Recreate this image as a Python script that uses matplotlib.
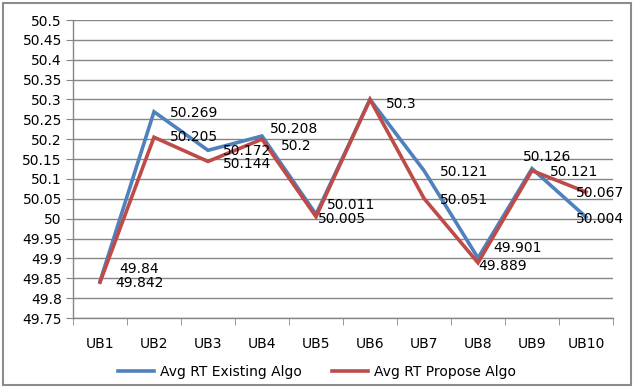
import matplotlib
matplotlib.use("Agg")
import matplotlib.pyplot as plt
from matplotlib.patches import Rectangle
import numpy as np

categories = ["UB1", "UB2", "UB3", "UB4", "UB5", "UB6", "UB7", "UB8", "UB9", "UB10"]
existing = [49.842, 50.269, 50.172, 50.208, 50.011, 50.3, 50.121, 49.901, 50.126, 50.004]
propose = [49.84, 50.205, 50.144, 50.2, 50.005, 50.3, 50.051, 49.889, 50.121, 50.067]
existing_labels = ["49.842", "50.269", "50.172", "50.208", "50.011", "50.3", "50.121", "49.901", "50.126", "50.004"]
propose_labels = ["49.84", "50.205", "50.144", "50.2", "50.005", "", "50.051", "49.889", "50.121", "50.067"]
yticks = [49.75, 49.8, 49.85, 49.9, 49.95, 50.0, 50.05, 50.1, 50.15, 50.2, 50.25, 50.3, 50.35, 50.4, 50.45, 50.5]
ytick_labels = ["49.75", "49.8", "49.85", "49.9", "49.95", "50", "50.05", "50.1", "50.15", "50.2",
                "50.25", "50.3", "50.35", "50.4", "50.45", "50.5"]

# label offsets in pixels (dx right, dy down)
blue_off = [(15, 2), (16, 1), (15, 1), (8, -7), (11, -9), (16, 5), (16, 1), (15, -10), (-9, -12), (-10, 2)]
red_off = [(19, -13), (16, 0), (15, 2.5), (19, 7), (2, 2), (16, 5), (16, 1.5), (0, 3), (18, 1), (-10, 1)]

W, H = 634, 388
plt.rcParams['font.family'] = ['DejaVu Sans']
fig = plt.figure(figsize=(W / 100, H / 100), dpi=100)

left, right, top, bottom = 73, 613, 20, 318
ax = fig.add_axes([left / W, 1 - bottom / H, (right - left) / W, (bottom - top) / H])

blue = "#4F81BD"
red = "#BE4B48"
fs = 10
x = np.arange(len(categories))
ax.plot(x, existing, color=blue, lw=2.6, solid_joinstyle='miter', zorder=3, label="Avg RT Existing Algo")
ax.plot(x, propose, color=red, lw=2.6, solid_joinstyle='miter', zorder=4, label="Avg RT Propose Algo")

ax.set_xlim(-0.5, len(categories) - 0.5)
ax.set_ylim(49.75, 50.5)
ax.set_yticks(yticks)
ax.set_yticklabels(ytick_labels, fontsize=fs)
ax.set_xticks(x)
ax.set_xticklabels(categories, fontsize=fs)
ax.set_xticks(np.arange(-0.5, len(categories), 1), minor=True)
ax.tick_params(axis='x', which='major', length=0, pad=14)
ax.tick_params(axis='x', which='minor', length=5, color="#868686", direction='out')
ax.tick_params(axis='y', length=5, color="#868686", direction='out', pad=3)
ax.grid(axis='y', color="#868686", lw=1)
ax.set_axisbelow(True)
for s in ['top', 'right']:
    ax.spines[s].set_visible(False)
for s in ['left', 'bottom']:
    ax.spines[s].set_color("#868686")
    ax.spines[s].set_linewidth(1)

for i in range(len(categories)):
    if existing_labels[i]:
        ax.annotate(existing_labels[i], (x[i], existing[i]), xytext=(blue_off[i][0], -blue_off[i][1]),
                    textcoords='offset pixels', ha='left', va='center', fontsize=fs, color='black', zorder=6)
    if propose_labels[i]:
        ax.annotate(propose_labels[i], (x[i], propose[i]), xytext=(red_off[i][0], -red_off[i][1]),
                    textcoords='offset pixels', ha='left', va='center', fontsize=fs, color='black', zorder=6)

leg = fig.legend(loc='center', bbox_to_anchor=(0.5, 1 - 372 / H), ncol=2, frameon=False,
                 fontsize=fs, handlelength=2.6, columnspacing=2.2, handletextpad=0.4)

fig.patches.append(Rectangle((3 / W, 3 / H), (W - 6) / W, (H - 6) / H, transform=fig.transFigure,
                             fill=False, edgecolor="#8C8C8C", lw=1.5))

fig.savefig("out.png", dpi=100)
